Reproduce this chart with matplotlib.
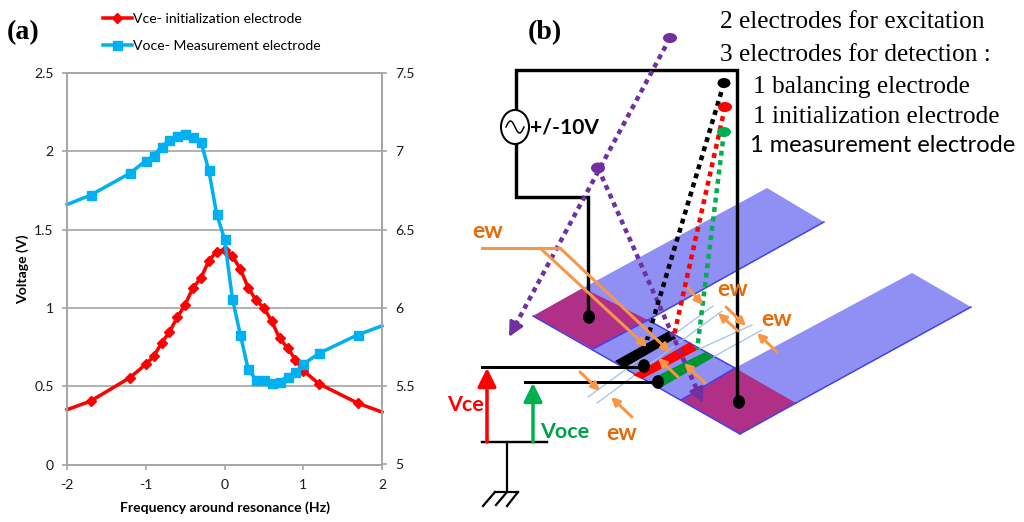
import numpy as np
import matplotlib
matplotlib.use("Agg")
import matplotlib.pyplot as plt
from matplotlib.patches import Polygon, Ellipse

# chart data
freq = [-2, -1.7, -1.2, -1, -0.9, -0.8, -0.7, -0.6, -0.5, -0.4, -0.3, -0.2, -0.1, 0,
        0.1, 0.2, 0.3, 0.4, 0.5, 0.6, 0.7, 0.8, 0.9, 1, 1.2, 1.7, 2]
vce = [0.35, 0.405, 0.555, 0.64, 0.69, 0.775, 0.845, 0.94, 1.02, 1.13, 1.19, 1.3, 1.36, 1.37,
       1.33, 1.25, 1.13, 1.05, 1.0, 0.915, 0.805, 0.745, 0.67, 0.6, 0.515, 0.39, 0.335]
voce = [6.66, 6.72, 6.86, 6.94, 6.97, 7.03, 7.07, 7.10, 7.11, 7.09, 7.06, 6.88, 6.60, 6.44,
        6.06, 5.83, 5.61, 5.54, 5.54, 5.52, 5.53, 5.56, 5.59, 5.64, 5.71, 5.83, 5.885]
left_ticks = [0, 0.5, 1, 1.5, 2, 2.5]
left_labels = ["0", "0.5", "1", "1.5", "2", "2.5"]
right_ticks = [5, 5.5, 6, 6.5, 7, 7.5]
right_labels = ["5", "5.5", "6", "6.5", "7", "7.5"]
x_ticks = [-2, -1, 0, 1, 2]

W, H = 1024, 522
GRID = "#a6a6a6"
RED = "#ff0000"
CYAN = "#00b0f0"
PURPLE = "#7030a0"
ORANGE = "#f79646"
EW = "#e36c0a"
STRIP = "#9090f4"
EDGE = "#3f3ff0"
PAD = "#b03088"
px = 0.72  # pixel to point at dpi 100

plt.rcParams["font.family"] = ["Lato", "DejaVu Sans"]
plt.rcParams["axes.unicode_minus"] = False
fig = plt.figure(figsize=(W / 100, H / 100), dpi=100)

# panel (a)
ax = fig.add_axes([67 / W, 1 - 464.5 / H, 315 / W, 391.5 / H])
ax.set_xlim(-2, 2)
ax.set_ylim(0, 2.5)
line1, = ax.plot(freq, vce, color=RED, lw=3.5 * px, marker="D", ms=6.5 * px,
                 markevery=list(range(1, len(freq) - 1)), label="Vce- initialization electrode",
                 solid_joinstyle="round", clip_on=False)
ax.set_xticks(x_ticks)
ax.set_yticks(left_ticks)
ax.set_yticklabels(left_labels)
ax.grid(axis="y", color=GRID, lw=1.7 * px)
ax.set_axisbelow(True)
ax.set_xlabel("Frequency around resonance (Hz)", fontweight="bold", fontsize=14 * px, labelpad=7)
ax.set_ylabel("Voltage (V)", fontweight="bold", fontsize=14 * px, labelpad=4)

ax2 = ax.twinx()
ax2.set_ylim(5, 7.5)
line2, = ax2.plot(freq, voce, color=CYAN, lw=3.5 * px, marker="s", ms=9 * px,
                  markevery=list(range(1, len(freq) - 1)), label="Voce- Measurement electrode",
                  solid_joinstyle="round", clip_on=False)
ax2.set_yticks(right_ticks)
ax2.set_yticklabels(right_labels)

for a in (ax, ax2):
    for s in a.spines.values():
        s.set_color(GRID)
        s.set_linewidth(1.7 * px)
    a.tick_params(axis="y", color=GRID, width=1.7 * px, length=5 * px, labelsize=14 * px,
                  labelcolor="#1a1a1a", pad=6)
    a.tick_params(axis="x", color=GRID, width=1.7 * px, length=5 * px, labelsize=14 * px,
                  labelcolor="#1a1a1a", pad=7)

fig.legend(handles=[line1, line2], loc="upper left", bbox_to_anchor=(90 / W, 1 - 0 / H), frameon=False,
           fontsize=14 * px, handlelength=2.1, handletextpad=0.1, labelspacing=1.12,
           markerfirst=True)

# panel (b), drawn in image pixels on a full size overlay
ov = fig.add_axes([0, 0, 1, 1], facecolor="none")
ov.set_xlim(0, W)
ov.set_ylim(H, 0)
ov.axis("off")


def poly(points, color, z=1):
    ov.add_patch(Polygon(points, closed=True, fc=color, ec="none", zorder=z))


def wire(points, color="black", lw=3.4, z=5, **kw):
    xs, ys = zip(*points)
    ov.plot(xs, ys, color=color, lw=lw * px, zorder=z, solid_joinstyle="miter", **kw)


def dotted(points, color, lw=4.5, z=6):
    xs, ys = zip(*points)
    ov.plot(xs, ys, color=color, lw=lw * px, zorder=z, linestyle=(0, (1.1, 1.0)), dash_capstyle="butt")


def arrow(start, end, color=ORANGE, lw=3, size=12, z=8):
    ov.annotate("", xy=end, xytext=start, zorder=z,
                arrowprops=dict(arrowstyle="-|>", color=color, lw=lw * px, mutation_scale=size,
                                shrinkA=0, shrinkB=0))


def dot(x, y, rx, ry, color="black", z=9):
    ov.add_patch(Ellipse((x, y), 2 * rx, 2 * ry, fc=color, ec="none", zorder=z))


# strips and pads
poly([(533, 316), (583, 288), (767, 188), (824, 222), (648, 320), (735, 368), (912, 273),
      (971, 307), (796, 403), (740, 434)], STRIP, 1)
poly([(533, 316), (583, 288), (648, 320), (593, 349)], PAD, 2)
poly([(681, 400), (735, 368), (796, 403), (740, 434)], PAD, 2)
for seg in ([(533, 316), (740, 434)], [(740, 434), (796, 403)], [(796, 403), (971, 307)],
            [(648, 320), (824, 222)], [(648, 320), (735, 368)], [(593, 349), (648, 320)],
            [(681, 400), (735, 368)]):
    wire(seg, color=EDGE, lw=1.5, z=3)

# electrodes
poly([(615, 361), (669, 331), (676, 338), (624, 368)], "black", 6)
poly([(633, 375), (690, 342), (697, 350), (642, 379)], RED, 6)
poly([(653, 378), (705, 352), (714, 357), (662, 387)], "#00952e", 6)

# thin blue guide lines
for seg in ([(588, 397), (713, 306)], [(597, 403), (722, 311)],
            [(697, 350), (752, 325)], [(713, 357), (762, 330)]):
    wire(seg, color="#9cc2e6", lw=1.2, z=4)

# black wiring
wire([(588, 317), (588, 197), (516, 197), (516, 70), (737, 70), (737, 402)])
wire([(482, 367), (644, 367)], lw=3)
wire([(525, 382), (658, 382)], lw=3)
wire([(482, 442), (547, 442)], lw=2.4)
wire([(507, 442), (507, 491)], lw=2.2)
wire([(495, 492), (518, 492)], lw=2.2)
for hatch in ([(495, 492), (483, 506)], [(507, 492), (496, 505)], [(518, 492), (507, 506)]):
    wire(hatch, lw=2.2)
for x, y in [(589, 317), (739, 402), (644, 366), (658, 382)]:
    dot(x, y, 6, 6.8)

# AC source
ov.add_patch(Ellipse((515, 127), 28, 34, fc="white", ec="black", lw=2 * px, zorder=7))
phase = np.linspace(0, 2 * np.pi, 40)
ov.plot(515 + 9 * (phase / np.pi - 1), 127 - 6 * np.sin(phase), color="black", lw=1.5 * px, zorder=8)

# dotted probes
dotted([(670, 38), (516, 324)], PURPLE)
arrow((517, 322), (509, 337), color=PURPLE, lw=3, size=22, z=6)
dotted([(598, 168), (698, 392)], PURPLE)
arrow((697, 390), (703, 403), color=PURPLE, lw=3, size=22, z=7)
dot(670, 38, 7, 5, PURPLE)
dot(598, 168, 7, 5.5, PURPLE)
dotted([(724, 83), (647, 340)], "black")
dotted([(725, 107), (673, 340)], RED, z=5)
dotted([(724, 132), (697, 350)], "#00b050", z=5)
dot(724, 83, 6.5, 5)
dot(725, 107, 7, 5, RED)
dot(724, 132, 7, 5, "#00b050")

# orange width markers
wire([(482, 248), (560, 248)], color=ORANGE, lw=3, z=8)
arrow((540, 248), (647, 347))
arrow((560, 248), (670, 352))
for start, end in [((688, 288), (703, 305)), ((726, 307), (746, 326)), ((738, 331), (718, 313)),
                   ((777, 352), (757, 333)), ((580, 372), (600, 391)), ((632, 417), (611, 397)),
                   ((678, 377), (658, 358)), ((705, 383), (684, 363))]:
    arrow(start, end)

# voltage arrows
arrow((487, 442), (487, 368), color=RED, lw=3.5, size=28, z=6)
arrow((533, 442), (533, 383), color="#00b050", lw=3.5, size=28, z=6)

# labels
for x, y in [(488, 232), (733, 290), (777, 320), (622, 433)]:
    ov.text(x, y, "ew", color=EW, fontsize=23 * px, fontweight="bold", ha="center", va="center", zorder=10)
ov.text(447, 405, "Vce", color=RED, fontsize=21.5 * px, fontweight="bold", va="center", zorder=10)
ov.text(540, 432, "Voce", color="#00a04a", fontsize=21.5 * px, fontweight="bold", va="center", zorder=10)
ov.text(530, 127, "+/-10V", color="black", fontsize=21 * px, fontweight="bold", va="center", zorder=10)

serif = ["Liberation Serif", "DejaVu Serif"]
ov.text(7, 33, "(a)", family=serif, fontsize=28 * px, fontweight="bold", va="center")
ov.text(528, 33, "(b)", family=serif, fontsize=28 * px, fontweight="bold", va="center")
ov.text(720, 22, "2 electrodes for excitation", family=serif, fontsize=25.4 * px, va="center")
ov.text(720, 55, "3 electrodes for detection :", family=serif, fontsize=25.4 * px, va="center")
ov.text(753, 87, "1 balancing electrode", family=serif, fontsize=25.4 * px, va="center")
ov.text(753, 117, "1 initialization electrode", family=serif, fontsize=25.4 * px, va="center")
ov.text(750, 146, "1 measurement electrode", fontsize=23.6 * px, va="center")

fig.savefig("out.png", dpi=100)
